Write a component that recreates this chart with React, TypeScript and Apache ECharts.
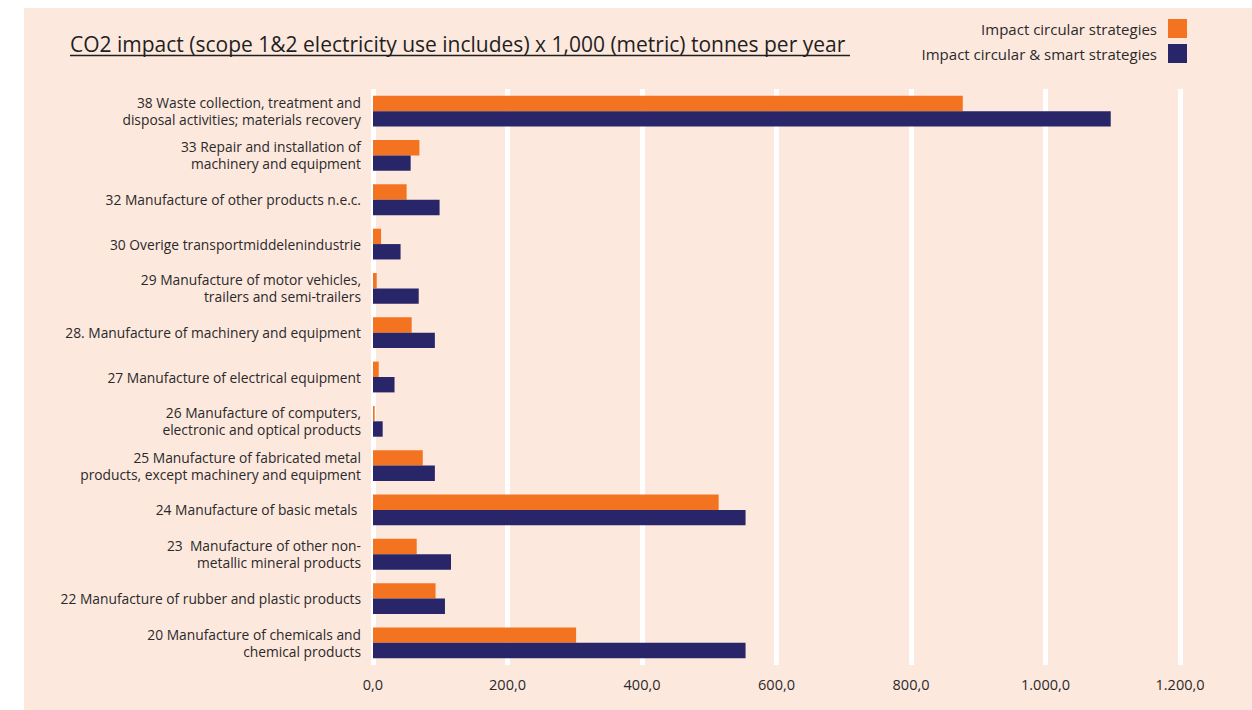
import React, { useEffect, useRef } from "react";
import * as echarts from "echarts";

const categories = [
  "38 Waste collection, treatment and\ndisposal activities; materials recovery",
  "33 Repair and installation of\nmachinery and equipment",
  "32 Manufacture of other products n.e.c.",
  "30 Overige transportmiddelenindustrie",
  "29 Manufacture of motor vehicles,\ntrailers and semi-trailers",
  "28. Manufacture of machinery and equipment",
  "27 Manufacture of electrical equipment",
  "26 Manufacture of computers,\nelectronic and optical products",
  "25 Manufacture of fabricated metal\nproducts, except machinery and equipment",
  "24 Manufacture of basic metals ",
  "23  Manufacture of other non-\nmetallic mineral products",
  "22 Manufacture of rubber and plastic products",
  "20 Manufacture of chemicals and\nchemical products",
];

const circular = [877, 69, 50, 12, 5.5, 57.5, 8.5, 2.5, 74, 514, 65, 93, 302];
const circularSmart = [1097, 56, 99, 41, 68, 92, 32, 14.4, 92, 554, 116, 107, 554];

const seriesNames = ["Impact circular strategies", "Impact circular & smart strategies"];
const title = "CO2 impact (scope 1&2 electricity use includes) x 1,000 (metric) tonnes per year ";

function fmt(v: number): string {
  const fixed = v.toFixed(1);
  const [intPart, dec] = fixed.split(".");
  const withSep = intPart.replace(/\B(?=(\d{3})+(?!\d))/g, ".");
  return withSep + "," + dec;
}

export default function App() {
  const ref = useRef<HTMLDivElement>(null);
  useEffect(() => {
    if (!ref.current) return;
    const chart = echarts.init(ref.current, undefined, { renderer: "svg" });
    const font = "Open Sans";
    chart.setOption({
      animation: false,
      backgroundColor: "#fde8de",
      textStyle: { fontFamily: font },
      graphic: [
        {
          type: "text",
          left: 46,
          top: 25,
          style: { text: title, font: `500 21px '${font}'`, fill: "#1f1f1f" },
        },
        {
          type: "line",
          shape: { x1: 46, y1: 47.5, x2: 826, y2: 47.5 },
          style: { stroke: "#1f1f1f", lineWidth: 1.3 },
        },
      ],
      legend: {
        orient: "vertical",
        right: 60,
        top: 6,
        align: "right",
        itemWidth: 19,
        itemHeight: 19,
        itemGap: 6,
        icon: "rect",
        textStyle: { fontFamily: font, fontSize: 15, color: "#2a2a2a", padding: [0, 6, 0, 0] },
        data: seriesNames,
      },
      grid: { left: 349, right: 72, top: 81, bottom: 45, containLabel: false },
      xAxis: {
        type: "value",
        min: 0,
        max: 1200,
        interval: 200,
        axisLine: { show: false },
        axisTick: { show: false },
        splitLine: { show: true, lineStyle: { color: "#ffffff", width: 5 } },
        axisLabel: {
          formatter: (v: number) => fmt(v),
          fontFamily: font,
          fontSize: 14.5,
          color: "#2a2a2a",
          margin: 12,
        },
      },
      yAxis: {
        type: "category",
        inverse: true,
        data: categories,
        axisLine: { show: false },
        axisTick: { show: false },
        axisLabel: {
          fontFamily: font,
          fontSize: 13.8,
          color: "#2a2a2a",
          margin: 12,
          lineHeight: 17,
          align: "right",
        },
      },
      series: [
        {
          name: seriesNames[0],
          type: "bar",
          data: circular,
          barWidth: 15.4,
          barGap: "0%",
          itemStyle: { color: "#f47321" },
        },
        {
          name: seriesNames[1],
          type: "bar",
          data: circularSmart,
          barWidth: 15.4,
          barGap: "0%",
          itemStyle: { color: "#282668" },
        },
      ],
    });
    return () => chart.dispose();
  }, []);
  return (
    <div
      ref={ref}
      style={{ position: "fixed", left: 24, top: 8, width: 1228, height: 702, background: "#fde8de" }}
    />
  );
}
